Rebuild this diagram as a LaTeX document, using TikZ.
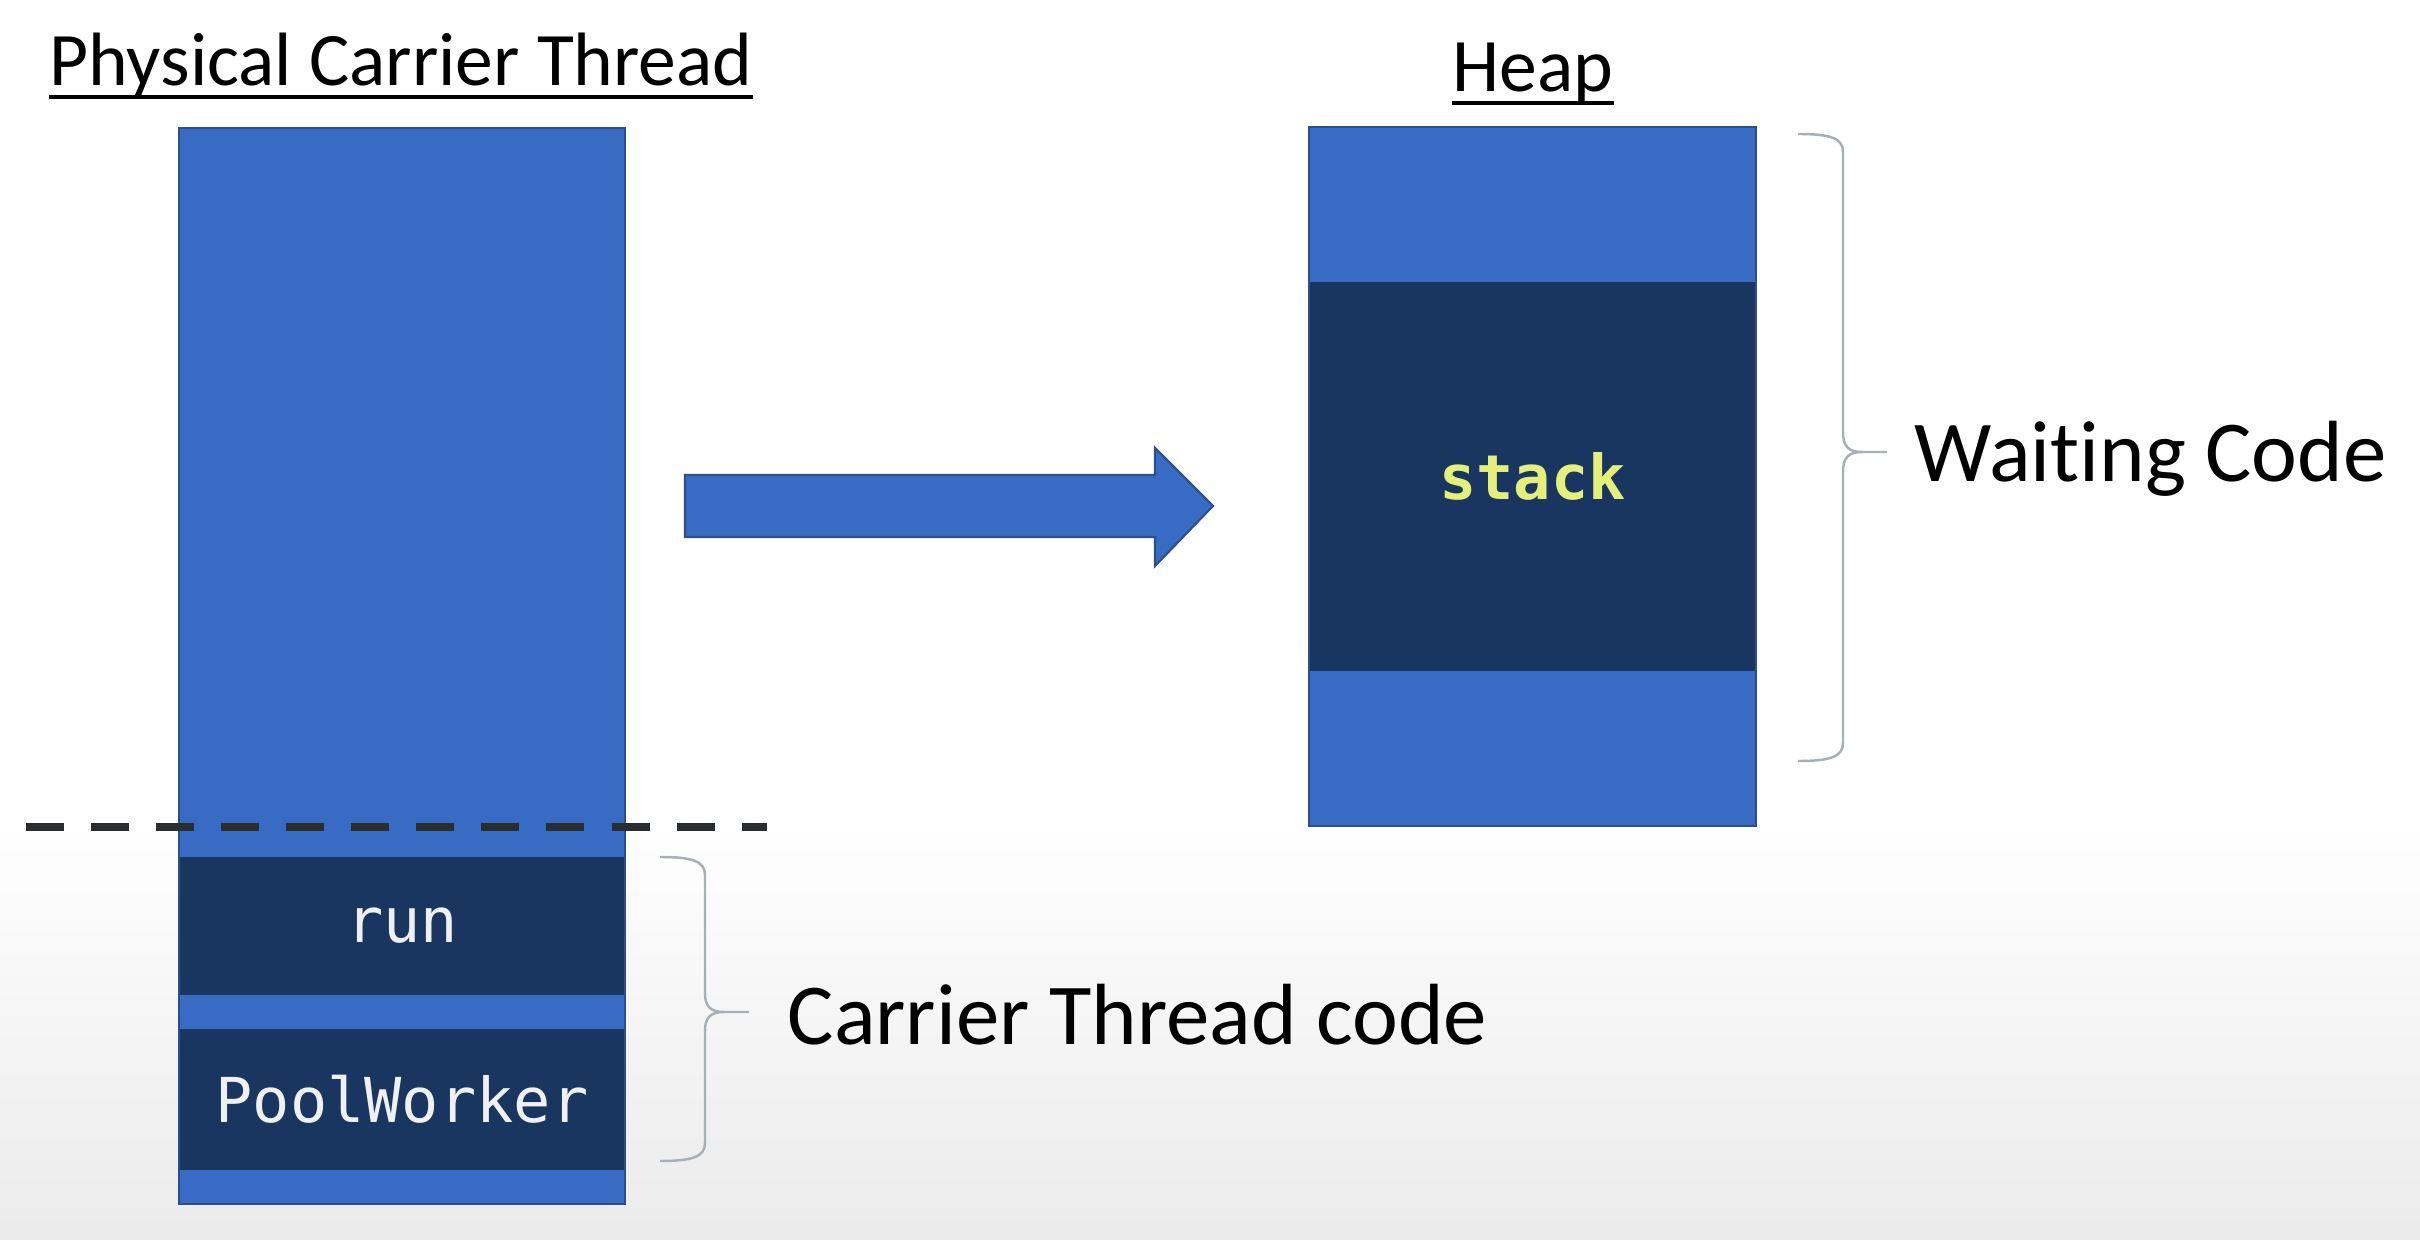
\documentclass[tikz,border=0pt]{standalone}
\usepackage{fontspec}
\setmainfont{Carlito}[Ligatures=NoCommon]
\newfontfamily\codefont{DejaVu Sans Mono}
\usetikzlibrary{calc}
\definecolor{lightblue}{HTML}{386CC4}
\definecolor{navy}{HTML}{18365F}
\definecolor{rimblue}{HTML}{2C4F8C}
\definecolor{bracegray}{HTML}{A9AFB6}
\definecolor{codeyellow}{HTML}{E4F07A}
\definecolor{dashgray}{HTML}{2A2D30}
\tikzset{
  x=0.01cm, y=-0.01cm,
  stackbox/.style={draw=rimblue, line width=0.6pt, fill=lightblue, inner sep=0pt, minimum width=4.46cm},
  framebox/.style={fill=navy, inner sep=0pt, minimum width=4.44cm, text=white!94!black, font=\codefont\fontsize{17.6}{20}\selectfont},
  titletext/.style={font=\fontsize{21.5}{25}\selectfont, inner sep=0pt, anchor=base},
  labeltext/.style={font=\fontsize{24.7}{29}\selectfont, inner sep=0pt, anchor=base west},
  underl/.style={line width=1.2pt, black},
  bracestyle/.style={draw=bracegray, line width=0.7pt},
  dashline/.style={line width=2pt, dashgray, dash pattern=on 10.8pt off 7.7pt},
}
\begin{document}
\begin{tikzpicture}
\useasboundingbox (0,0) rectangle (2420,1240);
\fill[white] (0,0) rectangle (2420,1240);
\shade[top color=white, bottom color=gray!16] (0,820) rectangle (2420,1240);

% titles
\node[titletext] (ttitle) at (401,86) {Physical Carrier Thread};
\draw[underl] ($(ttitle.base west)+(0,11)$) -- ($(ttitle.base east)+(0,11)$);
\node[titletext] (htitle) at (1533,92) {Heap};
\draw[underl] ($(htitle.base west)+(0,11)$) -- ($(htitle.base east)+(0,11)$);

% carrier thread stack
\node[stackbox, minimum height=10.76cm] (thread) at (402,666) {};
\node[framebox, minimum height=1.38cm] (run) at (402,926) {run};
\node[framebox, minimum height=1.41cm] (pool) at (402,1099.5) {PoolWorker};

% dashed separator
\coordinate (dl) at (26,827);
\coordinate (dr) at (767,827);
\draw[dashline] (dl) -- (dr);

% heap
\node[stackbox, minimum width=4.47cm, minimum height=6.99cm] (heap) at (1532.5,476.5) {};
\node[framebox, minimum width=4.45cm, minimum height=3.89cm, text=codeyellow, font=\codefont\bfseries\fontsize{17.6}{20}\selectfont] (stack) at (1532.5,476.5) {stack};

% block arrow
\draw[fill=lightblue, draw=rimblue, line width=0.6pt, line join=miter]
  (685,475) -- (1155,475) -- (1155,448) -- (1213,506) -- (1155,566) -- (1155,537) -- (685,537) -- cycle;

% braces
\draw[bracestyle] (1798,134) .. controls (1830,134) and (1843,138) .. (1843,152)
  -- (1843,432) .. controls (1843,446) and (1848,452) .. (1862,452) -- (1887,452)
  (1862,452) .. controls (1848,452) and (1843,458) .. (1843,472)
  -- (1843,743) .. controls (1843,757) and (1830,761) .. (1798,761);
\draw[bracestyle] (660,857) .. controls (692,857) and (705,861) .. (705,875)
  -- (705,993) .. controls (705,1006) and (710,1012) .. (724,1012) -- (749,1012)
  (724,1012) .. controls (710,1012) and (705,1018) .. (705,1031)
  -- (705,1143) .. controls (705,1157) and (692,1161) .. (660,1161);

% labels
\node[labeltext] (wait) at (1914,482) {Wait\kern0pt ing Code};
\node[labeltext] (carrier) at (787,1045) {Carrier Thread code};
\end{tikzpicture}
\end{document}
